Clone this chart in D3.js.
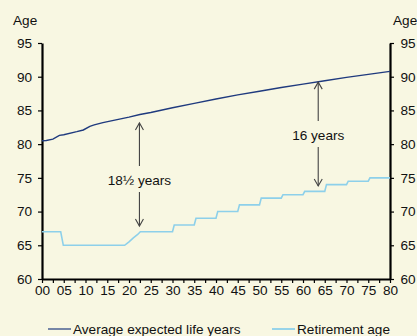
<!DOCTYPE html>
<html><head><meta charset="utf-8">
<script src="https://cdn.jsdelivr.net/npm/d3@7/dist/d3.min.js"></script>
<style>
html,body{margin:0;padding:0;background:#f8f7e2;}
svg{display:block;font-family:"Liberation Sans",Arial,sans-serif;}
</style></head>
<body>
<svg id="chart" width="417" height="336"></svg>
<script>
// ---- data ----
const lifeYears  = [0, 1, 2.5, 4, 5, 8, 9.5, 11, 12, 14, 17, 20, 22.5, 25, 30, 35, 40, 45, 50, 55, 60, 65, 70, 75, 80];
const lifeValues = [80.5, 80.55, 80.75, 81.3, 81.4, 81.85, 82.1, 82.65, 82.85, 83.2, 83.6, 84.0, 84.4, 84.7, 85.4, 86.05, 86.7, 87.3, 87.85, 88.4, 88.9, 89.4, 89.9, 90.35, 90.8];
const retireYears  = [0, 4.3, 4.9, 19, 20, 21, 22, 22.6, 30, 30.4, 35, 35.4, 40, 40.4, 45, 45.4, 50, 50.4, 55, 55.4, 60, 60.4, 65, 65.4, 70, 70.4, 75, 75.4, 80];
const retireValues = [67, 67, 65, 65, 65.5, 66.1, 66.6, 67, 67, 68, 68, 69, 69, 70, 70, 71, 71, 72, 72, 72.5, 72.5, 73, 73, 74, 74, 74.5, 74.5, 75, 75];
const yTicks = [60, 65, 70, 75, 80, 85, 90, 95];
const xTicks = d3.range(0, 80.01, 2.5);
const seriesNames = ["Average expected life years", "Retirement age"];
const annYears = [22.4, 63.5];
const annTop = [83.15, 89.2];
const annBottom = [67.85, 73.8];
const annMid = [74.67, 81.35];
const annLabels = ["18\u00BD years", "16 years"];

const colLife = "#1f3a7e", colRet = "#8dd0ea";
const FS = 13.6;

const svg = d3.select("#chart");
const x = d3.scaleLinear().domain([0, 80]).range([42, 390]);
const y = d3.scaleLinear().domain([60, 95]).range([279, 43]);

// axes
const fmtX = d => (d % 5 === 0) ? String(d).padStart(2, "0") : "";
const gx = svg.append("g").attr("transform", "translate(0,279)")
  .call(d3.axisBottom(x).tickValues(xTicks).tickFormat(fmtX).tickSize(4).tickSizeOuter(0));
const gl = svg.append("g").attr("transform", "translate(42,0)")
  .call(d3.axisLeft(y).tickValues(yTicks).tickSize(4).tickSizeOuter(0));
const gr = svg.append("g").attr("transform", "translate(390,0)")
  .call(d3.axisRight(y).tickValues(yTicks).tickSize(4).tickSizeOuter(0));
[gx, gl, gr].forEach(g => {
  g.select(".domain").attr("stroke", "#000").attr("stroke-width", 2.2);
  g.selectAll(".tick line").attr("stroke", "#000").attr("stroke-width", 1.2);
  g.selectAll("text").attr("font-size", FS).attr("fill", "#111")
    .attr("font-family", "'Liberation Sans', Arial, sans-serif");
});
gx.selectAll("text").attr("dy", "0.75em").attr("y", 6);
gl.selectAll("text").attr("x", -10);
gr.selectAll("text").attr("x", 10.5);

svg.append("text").attr("x", 13).attr("y", 24.5).attr("font-size", FS).attr("fill", "#111").text("Age");
svg.append("text").attr("x", 393).attr("y", 24.5).attr("font-size", FS).attr("fill", "#111").text("Age");

// lines
const lifeData = lifeYears.map((d, i) => [d, lifeValues[i]]);
const retData = retireYears.map((d, i) => [d, retireValues[i]]);
const line = d3.line().x(d => x(d[0])).y(d => y(d[1]));
svg.append("path").datum(retData).attr("d", line).attr("fill", "none")
  .attr("stroke", colRet).attr("stroke-width", 1.6);
svg.append("path").datum(lifeData).attr("d", line).attr("fill", "none")
  .attr("stroke", colLife).attr("stroke-width", 1.4);

// annotations
const ac = "#444";
annYears.forEach((yr, i) => {
  const ax = x(yr), ym = y(annMid[i]);
  const yt = y(annTop[i]), yb = y(annBottom[i]);
  const g = svg.append("g").attr("stroke", ac).attr("stroke-width", 1.1).attr("fill", "none");
  g.append("line").attr("x1", ax).attr("x2", ax).attr("y1", yt).attr("y2", ym - 14);
  g.append("line").attr("x1", ax).attr("x2", ax).attr("y1", ym + 12).attr("y2", yb);
  g.append("path").attr("d", `M${ax - 4},${yt + 7}L${ax},${yt}L${ax + 4},${yt + 7}`);
  g.append("path").attr("d", `M${ax - 4},${yb - 7}L${ax},${yb}L${ax + 4},${yb - 7}`);
  svg.append("text").attr("x", ax).attr("y", ym).attr("dy", "0.35em")
    .attr("text-anchor", "middle").attr("font-size", FS).attr("fill", "#111").text(annLabels[i]);
});

// legend
const legX = [48, 272];
const legCol = [colLife, colRet];
seriesNames.forEach((n, i) => {
  svg.append("line").attr("x1", legX[i]).attr("x2", legX[i] + 23).attr("y1", 329).attr("y2", 329)
    .attr("stroke", legCol[i]).attr("stroke-width", i === 0 ? 1.6 : 1.8)
    .attr("opacity", i === 0 ? 0.75 : 1);
  svg.append("text").attr("x", legX[i] + 25).attr("y", 333.5).attr("font-size", FS)
    .attr("fill", "#111").text(n);
});
</script>
</body></html>
